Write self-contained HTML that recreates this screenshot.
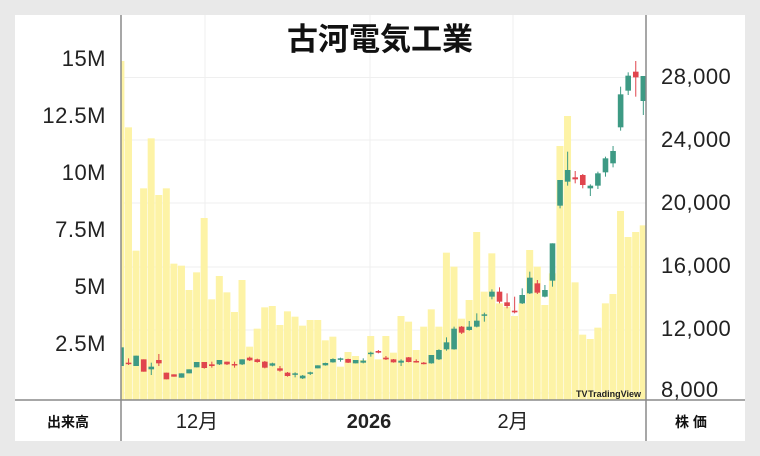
<!DOCTYPE html>
<html><head><meta charset="utf-8">
<style>
html,body{margin:0;padding:0;width:760px;height:456px;background:#e9e9e9;overflow:hidden;font-family:"Liberation Sans","Noto Sans CJK JP",sans-serif;}
svg{position:absolute;left:0;top:0;}
</style></head><body>
<svg id="s" width="760" height="456" xmlns="http://www.w3.org/2000/svg">
<rect x="15" y="15" width="730" height="426" fill="#fff"/>
<g stroke="#efefef" stroke-width="1">
<line x1="121" y1="77.5" x2="646" y2="77.5"/><line x1="121" y1="140" x2="646" y2="140"/>
<line x1="121" y1="203" x2="646" y2="203"/><line x1="121" y1="267" x2="646" y2="267"/>
<line x1="121" y1="330" x2="646" y2="330"/><line x1="121" y1="393" x2="646" y2="393"/>
<line x1="205" y1="15" x2="205" y2="400"/><line x1="370" y1="15" x2="370" y2="400"/><line x1="513" y1="15" x2="513" y2="400"/>
</g>
<g id="vol" fill="#fdf3a6"></g>
<g id="cdl"></g>
<line x1="121" y1="15" x2="121" y2="441" stroke="#8a8a8a" stroke-width="1.5"/>
<line x1="646" y1="15" x2="646" y2="441" stroke="#8a8a8a" stroke-width="1.5"/>
<line x1="15" y1="400" x2="745" y2="400" stroke="#8a8a8a" stroke-width="1.5"/>
<text x="380" y="50" font-size="31" font-weight="bold" text-anchor="middle" fill="#111" font-family="Liberation Sans,Noto Sans CJK JP,sans-serif">古河電気工業</text>
<g font-size="22" fill="#222" text-anchor="end" letter-spacing="0.5">
<text x="106" y="66">15M</text><text x="106" y="123">12.5M</text><text x="106" y="180">10M</text>
<text x="106" y="237">7.5M</text><text x="106" y="294">5M</text><text x="106" y="351">2.5M</text>
</g>
<g font-size="22" fill="#222" letter-spacing="0.5">
<text x="661" y="84">28,000</text><text x="661" y="147">24,000</text><text x="661" y="210">20,000</text>
<text x="661" y="273">16,000</text><text x="661" y="336">12,000</text><text x="661" y="397">8,000</text>
</g>
<text x="68" y="427" font-size="14" font-weight="bold" text-anchor="middle" fill="#111">出来高</text>
<text x="197" y="428" font-size="20" text-anchor="middle" fill="#222">12月</text>
<text x="369" y="428" font-size="20" font-weight="bold" text-anchor="middle" fill="#222">2026</text>
<text x="513" y="428" font-size="20" text-anchor="middle" fill="#222">2月</text>
<text x="691" y="427" font-size="14" font-weight="bold" text-anchor="middle" fill="#111">株 価</text>
<text x="641" y="397" font-size="9" font-weight="bold" text-anchor="end" fill="#222">TradingView</text>
<text x="576" y="397" font-size="9" font-weight="bold" fill="#222">TV</text>
</svg>
<script>
var vz=[63,262,632,445,295,465,445,671,677,750,697,534,778,708,757,816,720,920,866,802,798,855,814,830,857,840,840,901,890,980,936,948,960,888,958,
888,938,828,845,930,860,808,860,638,680,836,780,576,755,640,790,800,828,790,630,680,795,700,318,228,727,884,897,863,790,762,513,591,576,556];
var c=[['g',922,978,922,978],['r',968,972,955,975],['g',947,978,947,978],['r',958,995,958,995],['g',980,988,968,1005],['r',960,970,942,978],['r',998,1018,998,1018],['r',1003,1010,1003,1010],['g',1000,1013,1000,1013],['g',988,1000,988,1000],['g',966,982,966,982],['r',966,984,966,986],['r',973,978,965,983],['g',960,973,960,975],['r',965,973,965,975],['r',972,975,965,983],['g',958,973,958,975],['r',953,961,950,963],['r',958,966,956,968],['r',965,983,963,985],['g',970,977,968,979],['r',985,992,978,995],['r',998,1008,996,1010],['g',1000,1002,997,1012],['g',1007,1015,1005,1017],['g',997,999,995,1005],['g',976,985,976,985],['g',969,976,968,977],['g',957,967,955,968],['g',955,958,953,965],['r',957,968,956,969],['g',960,970,960,970],['g',962,968,955,970],['g',938,941,935,950],['r',933,938,930,940],
['r',953,958,948,960],['r',958,967,957,968],['g',962,968,958,978],['r',952,966,951,967],['r',963,965,958,968],['r',968,970,966,973],['g',945,970,945,971],['g',930,958,928,960],['g',907,928,892,932],['g',866,928,860,929],['r',860,878,858,882],['g',860,870,843,872],['g',842,860,820,862],['g',823,826,818,845],['g',755,770,748,778],['r',755,785,742,790],['r',787,798,760,805],['r',812,817,770,820],['g',765,790,745,792],['g',713,760,695,762],['r',730,758,720,762],['g',750,770,735,772],['g',610,722,610,740],['g',420,497,420,505],['g',390,425,335,437],['r',412,418,393,430],['r',405,435,402,445],['g',437,445,433,468],['g',400,437,395,447],['g',355,397,350,410],['g',333,370,318,382],['g',163,262,140,272],['g',107,152,97,165],['r',95,112,63,170],['g',108,183,108,225]];
var NS='http://www.w3.org/2000/svg',V=document.getElementById('vol'),C=document.getElementById('cdl');
function el(p,a){var e=document.createElementNS(NS,'rect');for(var k in a)e.setAttribute(k,a[k]);p.appendChild(e);}
for(var i=0;i<vz.length;i++){var x=117.4+7.57*i,t=vz[i]/3+40,x0=Math.max(x,121),x1=Math.min(x+7,646);if(x1>x0)el(V,{x:x0,y:t,width:x1-x0,height:400-t});}
for(var i=0;i<c.length;i++){var d=c[i],cx=121+7.57*i,col=d[0]=='g'?'#3d9a84':'#e0454d';
var bt=d[1]/3+40,bb=d[2]/3+40,wt=d[3]/3+40,wb=d[4]/3+40;
el(C,{x:cx-0.5,y:wt,width:1,height:Math.max(wb-wt,1),fill:col});
var l=Math.max(cx-2.8,121),r=Math.min(cx+2.8,646);
el(C,{x:l,y:bt,width:r-l,height:Math.max(bb-bt,1.5),fill:col});}
</script>
</body></html>
